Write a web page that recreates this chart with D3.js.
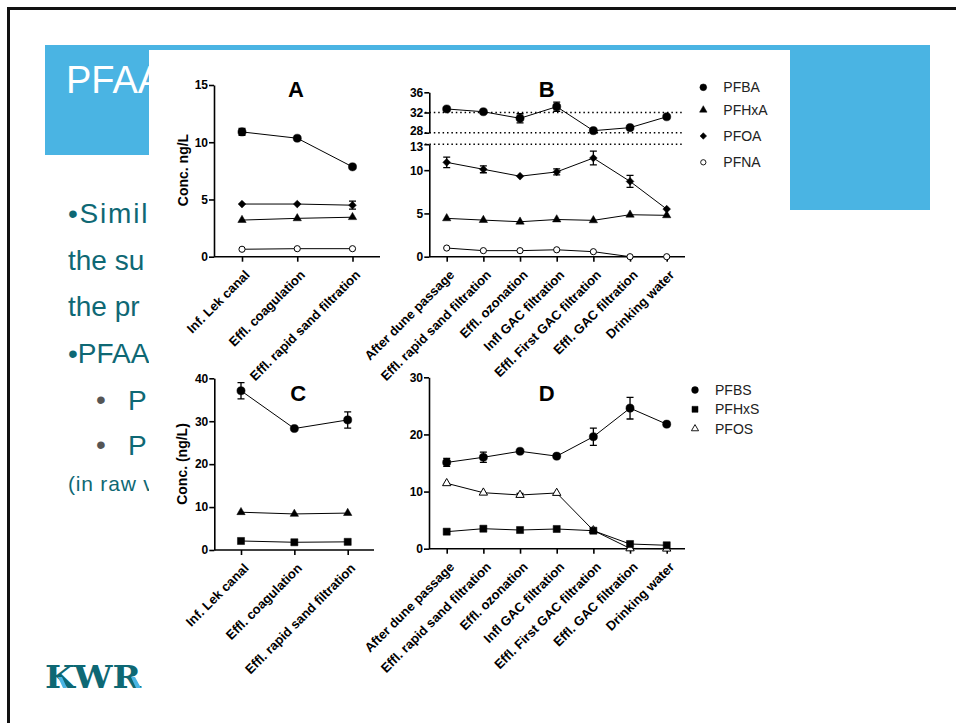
<!DOCTYPE html>
<html>
<head>
<meta charset="utf-8">
<script src="https://cdn.jsdelivr.net/npm/d3@7"></script>
<style>
  body { margin: 0; background: #fff; }
  svg { display: block; font-family: Arial, "Liberation Sans", Helvetica, sans-serif; }
</style>
</head>
<body>
<svg id="slide" width="956" height="723"></svg>
<script>
// ---- data ----
const catsShort = ["Inf. Lek canal", "Effl. coagulation", "Effl. rapid sand filtration"];
const catsLong = ["After dune passage", "Effl. rapid sand filtration", "Effl. ozonation",
  "Infl GAC filtration", "Effl. First GAC filtration", "Effl. GAC filtration", "Drinking water"];

// panel A
const aPFBA = [10.9, 10.35, 7.85];
const aPFBAerr = [0.3, 0, 0];
const aPFOA = [4.6, 4.6, 4.5];
const aPFOAerr = [0, 0, 0.35];
const aPFHxA = [3.2, 3.35, 3.45];
const aPFNA = [0.65, 0.7, 0.7];

// panel B (PFBA on the upper, broken part of the axis)
const bPFBA = [32.7, 32.15, 30.85, 33.15, 28.4, 29.0, 31.15];
const bPFBAerr = [0, 0, 0.9, 0.9, 0, 0, 0];
const bPFOA = [10.9, 10.1, 9.3, 9.8, 11.4, 8.7, 5.5];
const bPFOAerr = [0.6, 0.4, 0, 0.35, 0.8, 0.7, 0];
const bPFHxA = [4.43, 4.23, 4.04, 4.3, 4.2, 4.85, 4.78];
const bPFNA = [1.0, 0.7, 0.7, 0.8, 0.58, 0, 0];

// panel C
const cPFBS = [37.1, 28.3, 30.3];
const cPFBSerr = [1.9, 0, 1.9];
const cTriangle = [8.8, 8.4, 8.6];
const cPFHxS = [2.1, 1.8, 1.9];

// panel D
const dPFBS = [15.1, 16.0, 17.05, 16.2, 19.6, 24.6, 21.8];
const dPFBSerr = [0.7, 0.9, 0, 0, 1.5, 1.9, 0];
const dPFOS = [11.45, 9.8, 9.4, 9.75, 3.2, 0.05, 0];
const dPFOSerr = [0, 0, 0.3, 0, 0, 0, 0];
const dPFHxS = [2.98, 3.5, 3.27, 3.45, 3.15, 0.82, 0.6];

const ticksA = [0, 5, 10, 15];
const ticksBlow = [0, 5, 10, 13];
const ticksBhigh = [28, 32, 36];
const ticksC = [0, 10, 20, 30, 40];
const ticksD = [0, 10, 20, 30];

const legendB = ["PFBA", "PFHxA", "PFOA", "PFNA"];
const legendD = ["PFBS", "PFHxS", "PFOS"];

// slide text, only the part left visible beside the pasted chart
const bodyLines = ["\u2022Simil", "the su", "the pr", "\u2022PFAA"];
const subBullets = ["P", "P"];

// ---- slide ----
const blue = "#4ab4e3", teal = "#0e6874";
const svg = d3.select("#slide");
svg.append("rect").attr("width", 956).attr("height", 723).attr("fill", "#fff");

svg.append("rect").attr("x", 45).attr("y", 45).attr("width", 885).attr("height", 110).attr("fill", blue);
svg.append("rect").attr("x", 790).attr("y", 150).attr("width", 140).attr("height", 60).attr("fill", blue);

svg.append("line").attr("x1", 7).attr("x2", 956).attr("y1", 8.5).attr("y2", 8.5)
  .attr("stroke", "#111").attr("stroke-width", 3);
svg.append("line").attr("x1", 8.5).attr("x2", 8.5).attr("y1", 7).attr("y2", 723)
  .attr("stroke", "#111").attr("stroke-width", 3);

svg.append("clipPath").attr("id", "leftClip")
  .append("rect").attr("x", 0).attr("y", 0).attr("width", 149).attr("height", 723);

const left = svg.append("g").attr("clip-path", "url(#leftClip)");
left.append("text").attr("x", 66).attr("y", 93).attr("font-size", 38).attr("fill", "#fff").text("PFAA");

left.selectAll(null).data(bodyLines).join("text")
  .attr("x", 68).attr("y", (d, i) => [223, 270, 316, 363][i])
  .attr("font-size", 28).attr("letter-spacing", (d, i) => i === 0 ? 1.8 : 0)
  .attr("fill", teal).text(d => d);
left.selectAll(null).data(subBullets).join("text")
  .attr("x", 96).attr("y", (d, i) => [409, 454][i])
  .attr("font-size", 28).attr("fill", "#555").text("\u2022");
left.selectAll(null).data(subBullets).join("text")
  .attr("x", 128).attr("y", (d, i) => [410, 455][i])
  .attr("font-size", 28).attr("fill", teal).text(d => d);
left.append("text").attr("x", 68).attr("y", 491).attr("font-size", 21).attr("letter-spacing", 0.8)
  .attr("fill", teal).text("(in raw v");

// KWR logo
svg.append("text").attr("x", 45).attr("y", 688)
  .style("font-family", "'DejaVu Serif', 'Liberation Serif', serif")
  .attr("font-size", 32).attr("font-weight", "bold").attr("fill", teal)
  .attr("textLength", 96).attr("lengthAdjust", "spacingAndGlyphs").text("KWR");
svg.append("path").attr("d", "M58,677 L62,677 L67,688 L63,688 Z").attr("fill", blue);
svg.append("path").attr("d", "M131,677 L135,677 L141,688 L136,688 Z").attr("fill", blue);

// pasted chart image
svg.append("rect").attr("x", 149).attr("y", 50).attr("width", 641).attr("height", 673).attr("fill", "#fff");

// ---- chart helpers ----
const chart = svg.append("g");

function styleAxis(g) {
  g.attr("font-size", 12).attr("font-weight", "bold").attr("font-family", null);
  g.selectAll(".domain, .tick line").attr("stroke", "#000").attr("stroke-width", 1.6);
  g.selectAll(".tick text").attr("fill", "#000");
}

function yAxis(x0, y, ticks) {
  return chart.append("g").attr("transform", `translate(${x0},0)`)
    .call(d3.axisLeft(y).tickValues(ticks).tickSize(5).tickSizeOuter(0).tickPadding(1))
    .call(styleAxis);
}

function xAxis(y0, x, x0, x1) {
  const g = chart.append("g").attr("transform", `translate(0,${y0})`)
    .call(d3.axisBottom(x).tickSize(5))
    .call(styleAxis);
  g.select(".domain").remove();
  g.append("line").attr("x1", x0).attr("x2", x1).attr("stroke", "#000").attr("stroke-width", 1.6);
  g.selectAll(".tick text")
    .attr("x", null).attr("y", null).attr("dy", null)
    .attr("font-size", 13)
    .attr("text-anchor", "end")
    .attr("transform", "translate(8,19) rotate(-45)");
}

function series(x, y, cats, vals, errs, sym, size, filled) {
  const pts = cats.map((c, i) => [x(c), y(vals[i])]);
  chart.append("path").attr("d", d3.line()(pts))
    .attr("fill", "none").attr("stroke", "#000").attr("stroke-width", 1);
  if (errs) {
    errs.forEach((e, i) => {
      if (!e) return;
      const cx = x(cats[i]), lo = y(vals[i] - e), hi = y(vals[i] + e);
      chart.append("path")
        .attr("d", `M${cx},${lo}V${hi}M${cx - 3.5},${lo}H${cx + 3.5}M${cx - 3.5},${hi}H${cx + 3.5}`)
        .attr("fill", "none").attr("stroke", "#000").attr("stroke-width", 1.3);
    });
  }
  chart.selectAll(null).data(pts).join("path")
    .attr("transform", d => `translate(${d[0]},${d[1]})`)
    .attr("d", d3.symbol(sym, size))
    .attr("fill", filled ? "#000" : "#fff")
    .attr("stroke", "#000").attr("stroke-width", filled ? 0.5 : 1);
}

function title(label, cx, by) {
  chart.append("text").attr("x", cx).attr("y", by).attr("text-anchor", "middle")
    .attr("font-size", 22).attr("font-weight", "bold").text(label);
}

function yTitle(label, bx, cy) {
  chart.append("text").attr("transform", `translate(${bx},${cy}) rotate(-90)`)
    .attr("text-anchor", "middle").attr("font-size", 14).attr("font-weight", "bold").text(label);
}

function legend(names, syms, mx, tx, ys) {
  names.forEach((n, i) => {
    const s = syms[i];
    chart.append("path").attr("transform", `translate(${mx},${ys[i]})`)
      .attr("d", d3.symbol(s[0], s[1]))
      .attr("fill", s[2] ? "#000" : "#fff").attr("stroke", "#000").attr("stroke-width", s[2] ? 0.5 : 0.9);
    chart.append("text").attr("x", tx).attr("y", ys[i]).attr("dy", "0.36em")
      .attr("font-size", 14).attr("fill", "#222").text(n);
  });
}

// ---- panel A ----
const xA = d3.scalePoint().domain(catsShort).range([242, 352.5]);
const yA = d3.scaleLinear().domain([0, 15]).range([256.7, 85]);
xAxis(yA(0), xA, 214, 380);
yAxis(214, yA, ticksA);
series(xA, yA, catsShort, aPFBA, aPFBAerr, d3.symbolCircle, 52, true);
series(xA, yA, catsShort, aPFOA, aPFOAerr, d3.symbolDiamond2, 38, true);
series(xA, yA, catsShort, aPFHxA, null, d3.symbolTriangle, 30, true);
series(xA, yA, catsShort, aPFNA, null, d3.symbolCircle, 30, false);
title("A", 296, 97);
yTitle("Conc. ng/L", 187.5, 170);

// ---- panel B ----
const xB = d3.scalePoint().domain(catsLong).range([446.7, 666.7]);
const yBlow = d3.scaleLinear().domain([0, 13]).range([256.7, 144.2]);
const yBhigh = d3.scaleLinear().domain([28, 36]).range([132.7, 92.3]);
[[yBhigh, 32], [yBhigh, 28], [yBlow, 13]].forEach(([s, v]) => {
  chart.append("line").attr("x1", 425).attr("x2", 682).attr("y1", s(v)).attr("y2", s(v))
    .attr("stroke", "#000").attr("stroke-width", 1.5).attr("stroke-dasharray", "1.5,2.9");
});
xAxis(yBlow(0), xB, 429.3, 685);
// the two tick labels at the axis break sit close together
yAxis(429.3, yBlow, ticksBlow).selectAll(".tick text").filter(d => d === 13).attr("dy", "0.5em");
yAxis(429.3, yBhigh, ticksBhigh).selectAll(".tick text").filter(d => d === 28).attr("dy", "0.12em");
series(xB, yBhigh, catsLong, bPFBA, bPFBAerr, d3.symbolCircle, 52, true);
series(xB, yBlow, catsLong, bPFOA, bPFOAerr, d3.symbolDiamond2, 38, true);
series(xB, yBlow, catsLong, bPFHxA, null, d3.symbolTriangle, 30, true);
series(xB, yBlow, catsLong, bPFNA, null, d3.symbolCircle, 30, false);
title("B", 546.7, 97);
legend(legendB,
  [[d3.symbolCircle, 36, true], [d3.symbolTriangle, 24, true], [d3.symbolDiamond2, 28, true], [d3.symbolCircle, 22, false]],
  703.3, 723.3, [87.3, 110, 136, 162.3]);

// ---- panel C ----
const xC = d3.scalePoint().domain(catsShort).range([241, 347.7]);
const yC = d3.scaleLinear().domain([0, 40]).range([550, 378.3]);
xAxis(yC(0), xC, 214.3, 374);
yAxis(214.3, yC, ticksC);
series(xC, yC, catsShort, cPFBS, cPFBSerr, d3.symbolCircle, 52, true);
series(xC, yC, catsShort, cTriangle, null, d3.symbolTriangle, 30, true);
series(xC, yC, catsShort, cPFHxS, null, d3.symbolSquare, 50, true);
title("C", 298.3, 400.7);
yTitle("Conc. (ng/L)", 187, 464);

// ---- panel D ----
const xD = d3.scalePoint().domain(catsLong).range([446.7, 666.7]);
const yD = d3.scaleLinear().domain([0, 30]).range([548.7, 377.3]);
xAxis(yD(0), xD, 429, 685);
yAxis(429, yD, ticksD);
series(xD, yD, catsLong, dPFBS, dPFBSerr, d3.symbolCircle, 52, true);
series(xD, yD, catsLong, dPFOS, dPFOSerr, d3.symbolTriangle, 30, false);
series(xD, yD, catsLong, dPFHxS, null, d3.symbolSquare, 50, true);
title("D", 546.7, 400.7);
legend(legendD,
  [[d3.symbolCircle, 36, true], [d3.symbolSquare, 36, true], [d3.symbolTriangle, 22, false]],
  695, 715, [390, 409.3, 428.7]);
</script>
</body>
</html>
